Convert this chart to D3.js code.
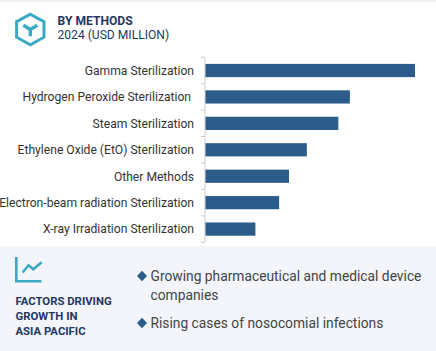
<!DOCTYPE html>
<html lang="en">
  <head>
    <meta charset="UTF-8">
    <title>By Methods</title>
    <style>
      html, body { margin: 0; padding: 0; background: #fff; overflow: hidden; }
      svg { display: block; font-family: Roboto, sans-serif; }
      .axis-y path, .axis-y line { stroke: #c9c9c9; stroke-width: 1; }
      .axis-y text { font-size: 12.12px; fill: #333; font-family: Roboto, sans-serif; white-space: pre; }
      .head { fill: #1f3864; font-size: 12.1px; }
      .factor { fill: #1f3864; font-size: 11.35px; font-weight: 700; }
      .bullet { fill: #444; font-size: 13.8px; }
    </style>
    <script src="https://d3js.org/d3.v7.min.js"></script>
  </head>
  <body>
    <script>
      const methods = [
        "Gamma Sterilization",
        "Hydrogen Peroxide Sterilization ",
        "Steam Sterilization",
        "Ethylene Oxide (EtO) Sterilization",
        "Other Methods",
        "Electron-beam radiation Sterilization",
        "X-ray Irradiation Sterilization"
      ];
      const values = [100, 69, 63.5, 48.5, 40, 35.3, 24];
      const factorLines = ["FACTORS DRIVING", "GROWTH IN", "ASIA PACIFIC"];
      const bulletLines = [
        ["Growing pharmaceutical and medical device", "companies"],
        ["Rising cases of nosocomial infections"]
      ];

      const width = 436;
      const height = 351;
      const margin = { top: 57.3, bottom: 242.3, left: 205, right: 415 };

      const svg = d3.select("body")
        .append("svg")
        .attr("width", width)
        .attr("height", height);

      // thin rule along the top edge
      svg.append("rect").attr("width", width).attr("height", 1.5).attr("fill", "#efefef");

      // header icon
      const icon = svg.append("g").attr("transform", "translate(30.3,29.2)")
        .attr("fill", "none").attr("stroke", "#3ba9c4");
      icon.append("path").attr("stroke-width", 3)
        .attr("d", "M0,-15 L13.7,-7.5 L13.7,8 L0,15.5 L-13.7,8 L-13.7,-7.5 Z");
      icon.append("path").attr("stroke-width", 3.4)
        .attr("d", "M-7,-4 L0,0.3 L7,-4 M0,0.3 L0,7");

      svg.append("text").attr("class", "head").attr("x", 57.5).attr("y", 25)
        .attr("font-weight", 700).text("BY METHODS");
      svg.append("text").attr("class", "head").attr("x", 57.5).attr("y", 39)
        .text("2024 (USD MILLION)");

      const x = d3.scaleLinear()
        .domain([0, 100])
        .range([margin.left, margin.right]);

      const y = d3.scaleBand()
        .domain(methods)
        .range([margin.top, margin.bottom])
        .paddingInner(0.5)
        .paddingOuter(0.25);

      // ticks sit on band edges, so draw the axis line and ticks from the step
      const axis = svg.append("g")
        .attr("class", "axis-y")
        .attr("transform", `translate(${margin.left},0)`)
        .call(d3.axisLeft(y).tickSize(0).tickPadding(11));
      axis.select(".domain").remove();
      axis.selectAll("text").attr("dy", "0.36em");
      axis.append("path").attr("fill", "none")
        .attr("d", `M-4,${margin.top}H0V${margin.bottom}H-4`);
      axis.selectAll(".edge")
        .data(methods.slice(1))
        .enter()
        .append("line")
        .attr("x1", -4)
        .attr("x2", 0)
        .attr("y1", d => y(d) - y.step() * y.paddingInner() / 2)
        .attr("y2", d => y(d) - y.step() * y.paddingInner() / 2);

      svg.selectAll(".bar")
        .data(methods)
        .enter()
        .append("rect")
        .attr("class", "bar")
        .attr("x", margin.left + 0.5)
        .attr("y", d => y(d))
        .attr("width", (d, i) => x(values[i]) - margin.left - 0.5)
        .attr("height", y.bandwidth())
        .attr("fill", "#2b5c8a");

      // bottom panel
      svg.append("rect").attr("y", 246).attr("width", width).attr("height", height - 246)
        .attr("fill", "#f3f5fa");

      const trend = svg.append("g").attr("fill", "none").attr("stroke", "#3ba9c4")
        .attr("stroke-width", 2.6);
      trend.append("path").attr("d", "M16.3,257V281.3H41.5");
      trend.append("path").attr("d", "M22.7,272.5L28.5,265.3L33.3,269.3L41.7,262.3");

      svg.selectAll(".factor")
        .data(factorLines)
        .enter()
        .append("text")
        .attr("class", "factor")
        .attr("x", 15.5)
        .attr("y", (d, i) => 305 + i * 15)
        .text(d => d);

      const bulletTop = [281, 328];
      bulletLines.forEach((lines, i) => {
        svg.append("path")
          .attr("d", "M0,-5.2L5,0L0,5.2L-5,0Z")
          .attr("transform", `translate(142,${bulletTop[i] - 5})`)
          .attr("fill", "#2b5c8a");
        lines.forEach((line, j) => {
          svg.append("text")
            .attr("class", "bullet")
            .attr("x", 150.5)
            .attr("y", bulletTop[i] + j * 19)
            .text(line);
        });
      });
    </script>
  </body>
</html>
